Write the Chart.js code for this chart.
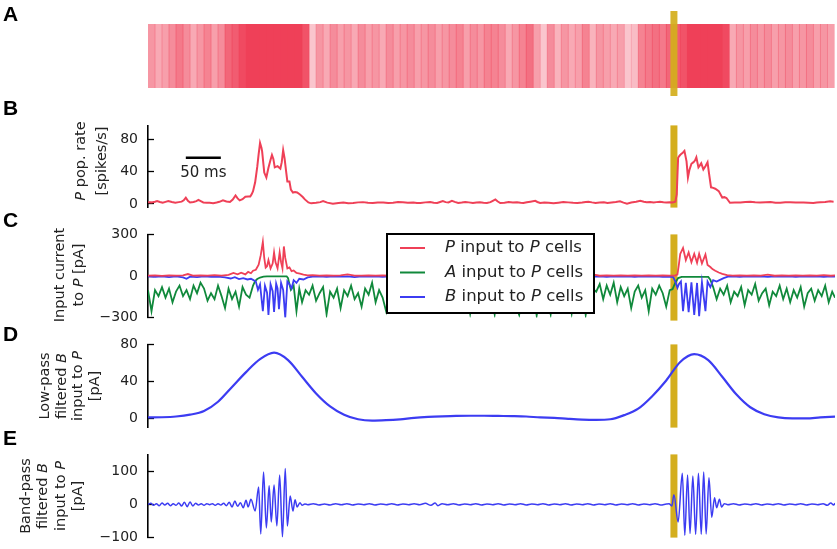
<!DOCTYPE html>
<html><head><meta charset="utf-8">
<script src="https://cdn.jsdelivr.net/npm/chart.js@4.4.1/dist/chart.umd.min.js"></script>
<style>
html,body{margin:0;padding:0;background:#fff;overflow:hidden;}
#wrap{position:relative;width:837px;height:549px;overflow:hidden;background:#fff;}
canvas{position:absolute;left:0;}
</style></head><body><div id="wrap">
<canvas id="cA" width="837" height="110" style="top:0px"></canvas>
<canvas id="cB" width="837" height="131" style="top:101px"></canvas>
<canvas id="cC" width="837" height="132" style="top:210px"></canvas>
<canvas id="cD" width="837" height="132" style="top:320px"></canvas>
<canvas id="cE" width="837" height="132" style="top:430px"></canvas>
</div>
<script>
// ---------------- DATA (time in ms) ----------------
const T_MAX = 981;
const stimWindow = [746, 756];
const scaleBarMs = 50;

const rasterBinMs = 10;
const rasterDensity = [0.55,0.45,0.5,0.6,0.7,0.6,0.45,0.55,0.65,0.5,0.6,0.8,0.85,0.95,1,1,1,1,1,1,1,1,0.9,0.3,
0.55,0.45,0.6,0.5,0.55,0.45,0.6,0.5,0.55,0.45,0.6,0.5,0.55,0.6,0.5,0.55,0.6,0.5,0.55,0.6,0.65,0.5,0.6,0.55,0.65,
0.65,0.6,0.45,0.55,0.65,0.75,0.5,0.3,0.6,0.4,0.55,0.45,0.5,0.65,0.4,0.55,0.5,0.45,0.5,0.3,0.35,0.65,0.7,0.75,0.7,
0.8,0.85,0.9,1,1,1,1,1,0.95,0.45,0.55,0.5,0.6,0.55,0.6,0.5,0.55,0.6,0.5,0.55,0.6,0.5,0.55,0.5];

const rateSeries = [[0,2.3],[5,2.0],[10,2.8],[13,3.7],[17,2.5],[21,1.5],[25,2.6],[29,3.7],[34,2.4],[39,1.5],[44,2.3],[48,2.9],[51,4.5],[54,7.9],[57,4.0],[60,1.9],[65,2.4],[69,3.6],[72,5.0],[76,3.2],[79,1.9],[84,1.6],[88,1.4],[93,1.0],[98,1.8],[102,2.7],[107,4.5],[112,3.0],[117,2.5],[121,5.5],[125,10.6],[128,7.0],[131,4.5],[135,6.0],[139,9.0],[143,9.2],[146,9.4],[148,12],[150,16],[153,27],[156,46],[158,62],[160,76],[162,70],[163,65],[165,48],[166,39],[169,33],[172,45],[175,55],[177,61],[179,56],[181,45.5],[185,47],[189,44],[191,52],[193,67],[195,57],[197,42],[199,28],[202,28],[204,18],[207,14.3],[210,15],[213,14.3],[217,11.7],[221,8.7],[224,5.7],[229,1.9],[233,0.8],[240,1.4],[246,2.3],[250,3.6],[256,1.7],[264,0.4],[272,1.3],[279,1.9],[286,1.0],[293,1.2],[300,2.0],[307,2.3],[314,1.5],[321,1.2],[328,1.7],[336,1.9],[343,1.2],[350,1.6],[357,2.4],[364,2.2],[371,1.5],[379,1.9],[384,1.3],[389,1.2],[396,2.0],[403,2.5],[408,1.6],[413,1.2],[417,2.4],[421,3.6],[425,2.3],[429,1.9],[434,3.9],[438,2.6],[443,1.2],[448,1.8],[453,2.5],[458,2.0],[464,1.2],[469,1.7],[474,2.2],[479,1.5],[484,1.2],[489,2.3],[493,4.2],[496,5.7],[499,3.4],[503,1.2],[509,1.6],[515,2.4],[521,1.8],[527,2.2],[532,1.6],[536,1.2],[541,2.2],[546,2.9],[553,3.9],[556,2.5],[560,1.2],[566,1.9],[572,1.4],[579,0.8],[586,1.6],[593,2.5],[600,2.0],[607,1.4],[613,1.2],[620,1.9],[625,2.6],[629,2.9],[634,2.0],[639,1.2],[645,1.7],[651,2.1],[656,1.2],[662,1.9],[668,2.5],[674,3.3],[679,1.7],[684,0.4],[690,1.8],[697,2.7],[703,3.9],[708,2.9],[712,2.3],[717,2.5],[722,1.8],[726,2.3],[731,2.9],[736,2.2],[740,1.9],[745,2.1],[749,1.9],[753,2.9],[755,12],[756,35],[757,57.5],[759,60],[761,62],[764,64],[766,66],[769,53],[771,33],[773,42],[776,50],[779,52],[781,54],[783,58],[786,45.5],[788,48],[790,50.7],[793,43],[796,47],[799,52],[801,38.7],[804,20.7],[807,20],[810,19],[815,16],[820,8],[823,8.5],[826,7.4],[831,1.5],[838,1.9],[846,1.9],[853,2.5],[860,2.9],[867,2.2],[874,1.9],[882,2.2],[889,2.5],[896,1.6],[903,1.6],[910,2.0],[917,2.2],[925,1.7],[936,1.9],[943,1.5],[950,1.2],[955,1.8],[960,2.2],[967,2.6],[974,3.3],[979,2.9]];

const pInput = [[0,2],[10,4],[20,1],[30,5],[40,2],[50,4],[57,14],[64,3],[75,5],[85,2],[95,6],[105,3],[115,8],[122,22],[128,12],[133,24],[139,12],[143,30],[147,20],[150,38],[154,45],[158,82],[161,150],[164,246],[166,130],[168,60],[170,70],[172,115],[175,55],[178,90],[180,170],[182,100],[185,55],[188,170],[190,100],[192,55],[194,213],[196,130],[199,55],[202,62],[205,35],[208,40],[212,22],[217,17],[222,10],[228,4],[235,6],[245,2],[255,5],[265,2],[275,4],[285,12],[295,3],[305,2],[315,5],[325,2],[335,4],[345,3],[355,6],[365,2],[375,4],[385,3],[395,5],[405,2],[415,6],[425,3],[435,4],[445,2],[455,5],[465,10],[475,4],[485,2],[495,6],[505,3],[515,4],[525,2],[535,5],[545,3],[555,6],[565,2],[575,4],[585,3],[595,5],[605,2],[615,4],[625,3],[635,12],[645,2],[655,4],[665,3],[675,5],[685,2],[695,4],[705,3],[715,5],[725,2],[735,4],[745,3],[750,2],[753,3],[756,12],[758,80],[760,159],[764,202],[768,115],[772,170],[776,100],[780,160],[784,95],[787,160],[791,90],[796,155],[799,80],[803,65],[806,50],[810,38],[815,25],[820,15],[827,7],[835,3],[845,5],[855,2],[865,4],[875,3],[885,10],[895,2],[905,4],[915,3],[925,5],[935,2],[945,4],[955,3],[965,6],[975,2],[981,4]];

const aInput = [[0,-102],[5,-254],[10,-102],[15,-145],[20,-80],[25,-156],[30,-91],[35,-189],[40,-113],[45,-69],[50,-145],[55,-102],[60,-167],[65,-69],[70,-124],[75,-48],[80,-91],[85,-178],[90,-124],[95,-167],[100,-69],[105,-145],[110,-232],[115,-91],[120,-167],[125,-113],[130,-221],[135,-80],[140,-135],[145,-156],[150,-69],[153,-37],[156,-22],[160,-11],[165,-5],[170,-3],[180,-2],[190,-2],[198,-2],[200,-15],[202,-60],[204,-100],[208,-69],[212,-254],[216,-91],[220,-189],[225,-102],[230,-135],[235,-69],[240,-178],[245,-124],[250,-80],[255,-276],[260,-113],[265,-156],[270,-91],[275,-232],[280,-102],[285,-145],[290,-69],[295,-167],[300,-124],[305,-221],[310,-91],[315,-135],[320,-48],[325,-189],[330,-102],[335,-156],[340,-254],[345,-113],[350,-69],[355,-145],[360,-102],[365,-178],[370,-80],[375,-124],[380,-232],[385,-113],[390,-156],[395,-69],[400,-189],[405,-102],[410,-145],[415,-91],[420,-167],[425,-124],[430,-211],[435,-80],[440,-135],[445,-102],[450,-178],[455,-113],[460,-269],[465,-91],[470,-156],[475,-124],[480,-189],[485,-80],[490,-145],[495,-276],[500,-102],[505,-167],[510,-69],[515,-135],[520,-113],[525,-211],[530,-280],[535,-124],[540,-91],[545,-167],[550,-102],[555,-285],[560,-135],[565,-80],[570,-156],[575,-276],[580,-113],[585,-189],[590,-91],[595,-145],[600,-124],[605,-269],[610,-102],[615,-178],[620,-80],[625,-280],[630,-135],[635,-91],[640,-113],[645,-58],[650,-167],[655,-69],[660,-135],[665,-48],[670,-189],[675,-80],[680,-145],[685,-91],[690,-232],[695,-113],[700,-69],[705,-156],[710,-102],[715,-254],[720,-91],[725,-135],[730,-69],[735,-124],[740,-221],[745,-102],[749,-95],[753,-48],[757,-15],[762,-6],[770,-6],[780,-6],[790,-6],[800,-6],[803,-26],[807,-80],[812,-167],[817,-91],[822,-135],[827,-69],[832,-189],[837,-113],[842,-145],[847,-80],[852,-211],[857,-102],[862,-135],[867,-58],[872,-178],[877,-124],[882,-91],[887,-211],[892,-113],[897,-145],[902,-69],[907,-167],[912,-91],[917,-189],[922,-102],[927,-156],[932,-80],[937,-221],[942,-124],[947,-91],[952,-178],[957,-102],[962,-145],[967,-69],[972,-189],[977,-113],[981,-156]];

const bInput = [[0,-3],[10,-6],[20,-2],[30,-8],[40,-3],[50,-10],[55,-20],[60,-5],[70,-8],[80,-3],[90,-6],[100,-4],[110,-10],[118,-18],[124,-8],[130,-22],[136,-15],[142,-25],[147,-20],[150,-28],[154,-40],[157,-100],[160,-60],[164,-254],[167,-70],[170,-120],[172,-280],[175,-60],[178,-110],[180,-260],[183,-55],[185,-90],[187,-240],[190,-50],[193,-100],[196,-300],[199,-40],[202,-60],[205,-90],[208,-30],[212,-50],[216,-20],[222,-25],[228,-10],[235,-5],[245,-3],[255,-7],[265,-2],[275,-5],[285,-3],[295,-8],[305,-2],[315,-4],[325,-3],[335,-6],[345,-2],[355,-4],[365,-3],[375,-6],[385,-2],[395,-4],[405,-3],[415,-7],[425,-2],[435,-5],[445,-3],[455,-6],[465,-2],[475,-4],[485,-3],[495,-7],[505,-2],[515,-5],[525,-3],[535,-6],[545,-2],[555,-4],[565,-3],[575,-8],[585,-2],[595,-5],[605,-3],[615,-6],[625,-2],[635,-4],[645,-3],[655,-6],[665,-2],[675,-5],[685,-3],[695,-7],[705,-2],[715,-4],[725,-3],[735,-6],[745,-5],[750,-8],[753,-40],[756,-85],[758,-60],[761,-40],[764,-254],[768,-50],[772,-260],[776,-45],[780,-280],[784,-50],[787,-290],[791,-45],[796,-254],[799,-40],[803,-80],[807,-30],[812,-40],[816,-30],[822,-15],[828,-5],[835,-3],[845,-6],[855,-2],[865,-4],[875,-3],[885,-7],[895,-2],[905,-5],[915,-3],[925,-6],[935,-2],[945,-4],[955,-3],[965,-6],[975,-2],[981,-4]];

const lowPassB = [[0,1],[20,1.2],[40,2],[60,4],[80,8],[100,18],[120,34],[140,50],[160,64],[180,71],[200,63],[220,45],[240,27],[260,13],[280,4],[300,-1],[320,-2.5],[340,-2],[360,-1],[380,0.5],[400,1.5],[420,2.2],[440,2.7],[460,2.8],[480,2.8],[500,2.6],[520,2.4],[540,2],[560,1],[580,0.5],[600,-0.5],[620,-1.3],[640,-1.6],[660,-1],[680,3.5],[700,10.5],[720,24],[740,41],[760,61],[780,69.5],[800,63],[820,45],[840,26],[860,12],[880,4.5],[900,1],[920,0],[940,0],[960,1],[981,1.8]];

const bandPassB = [[0,0],[4,3],[8,-3],[12,2],[16,-4],[20,4],[24,-2],[28,3],[32,-4],[36,2],[40,-3],[44,4],[48,-5],[52,6],[56,-7],[60,7],[64,-5],[68,3],[72,-2],[76,2],[80,-3],[84,2],[88,-1],[92,2],[96,-3],[100,2],[104,-2],[108,3],[112,-4],[116,6],[120,-8],[124,10],[128,-6],[132,5],[136,-10],[140,12],[143,-8],[147,15],[153,-20],[158,52],[161,-89],[165,97],[169,-71],[173,56],[176,-53],[180,58],[184,-65],[188,88],[192,-98],[196,108],[199,-65],[203,25],[207,-20],[210,14],[213,-8],[217,5],[220,-3],[224,1],[228,-1],[236,2],[244,-2],[252,1],[260,-2],[268,2],[276,-1],[284,2],[292,-2],[300,1],[308,-1],[316,2],[324,-2],[332,1],[340,-1],[348,2],[356,-2],[364,1],[372,-1],[380,2],[388,-1],[396,3],[404,-3],[410,4],[414,-4],[420,2],[428,-1],[436,2],[444,-2],[452,1],[460,-1],[468,2],[476,-2],[484,1],[492,-1],[500,2],[508,-2],[516,1],[524,-1],[532,2],[540,-2],[548,1],[556,-1],[564,2],[572,-2],[580,1],[588,-1],[596,2],[604,-2],[612,1],[620,-1],[628,2],[636,-2],[644,1],[652,-1],[660,2],[668,-2],[676,1],[684,-1],[692,2],[700,-2],[708,1],[716,-1],[724,2],[732,-2],[740,1],[744,2],[748,-5],[751,29],[757,-53],[763,93],[766.5,-93],[770.5,88],[774,-88],[778,85],[782,-90],[786,93],[790,-90],[793.5,97],[797,-89],[801,80],[805,-39],[809,20],[812,-10],[816,15],[819,-8],[823,2],[828,-1],[836,2],[844,-2],[852,1],[860,-1],[868,2],[876,-2],[884,1],[892,-1],[900,2],[908,-2],[916,1],[924,-1],[932,2],[940,-2],[948,1],[956,-1],[964,2],[970,-3],[975,4],[979,-2],[981,3]];

const rateTicks = [0, 40, 80];
const currentTicks = [-300, 0, 300];
const lowTicks = [0, 40, 80];
const bandTicks = [-100, 0, 100];
const seriesNames = ['P input to P cells', 'A input to P cells', 'B input to P cells'];

// ---------------- STYLE ----------------
const FONT = "'DejaVu Sans', sans-serif";
const RED = '#ef4057', GREEN = '#10893b', BLUE = '#3c3cf2', GOLD = '#d4ae1e';

const panelCfg = {
  cA: {top: 0, letter: 'A', letterY: 21, stim: [13, 8], stimOnTop: true},
  cB: {top: 101, letter: 'B', letterY: 115, stim: [0, 0], title: ['P pop. rate', '[spikes/s]'], titleX: 92, titleY: 161, titleGap: 21, scaleBar: {start: 54, level: 57.5}},
  cC: {top: 210, letter: 'C', letterY: 227, stim: [0, 3], title: ['Input current', 'to P [pA]'], titleX: 70, titleY: 275, titleGap: 19, legend: true},
  cD: {top: 320, letter: 'D', letterY: 341, stim: [0, 0], title: ['Low-pass', 'filtered B', 'input to P', '[pA]'], titleX: 70, titleY: 386, titleGap: 16.5},
  cE: {top: 430, letter: 'E', letterY: 445, stim: [0, 0], title: ['Band-pass', 'filtered B', 'input to P', '[pA]'], titleX: 52, titleY: 496, titleGap: 17.5}
};

function fmtTick(v) { return v < 0 ? '\u2212' + Math.abs(v) : String(v); }
const toXY = arr => arr.map(p => ({x: p[0], y: p[1]}));

function drawRich(ctx, text, x, y, size, color, align) {
  const words = text.split(' ');
  const parts = [];
  words.forEach((w, i) => { parts.push({t: w, it: /^[PAB]$/.test(w)}); if (i < words.length - 1) parts.push({t: ' ', it: false}); });
  const fontOf = it => (it ? 'italic ' : '') + size + 'px ' + FONT;
  let total = 0;
  parts.forEach(p => { ctx.font = fontOf(p.it); p.w = ctx.measureText(p.t).width; total += p.w; });
  let cx = align === 'center' ? x - total / 2 : x;
  ctx.fillStyle = color; ctx.textAlign = 'left'; ctx.textBaseline = 'middle';
  parts.forEach(p => { ctx.font = fontOf(p.it); ctx.fillText(p.t, cx, y); cx += p.w; });
}

function drawStim(chart, o) {
  const {ctx, chartArea: ca, scales: {x}} = chart;
  const x0 = x.getPixelForValue(stimWindow[0]), x1 = x.getPixelForValue(stimWindow[1]);
  ctx.save();
  ctx.fillStyle = GOLD;
  ctx.globalAlpha = o.stimOnTop ? 0.93 : 1;
  ctx.fillRect(x0, ca.top - o.stim[0], x1 - x0, ca.bottom - ca.top + o.stim[0] + o.stim[1]);
  ctx.restore();
}

const deco = {
  id: 'deco',
  beforeDatasetsDraw(chart) {
    const o = panelCfg[chart.canvas.id];
    if (o.stim && !o.stimOnTop) drawStim(chart, o);
  },
  afterDatasetsDraw(chart) {
    const o = panelCfg[chart.canvas.id];
    const ctx = chart.ctx;
    if (o.stim && o.stimOnTop) drawStim(chart, o);
    ctx.save();
    ctx.font = "bold 21px 'Liberation Sans', Arial, sans-serif";
    ctx.fillStyle = '#000'; ctx.textAlign = 'left'; ctx.textBaseline = 'alphabetic';
    ctx.fillText(o.letter, 3, o.letterY - o.top);
    if (o.title) {
      const n = o.title.length;
      o.title.forEach((line, i) => {
        const lx = o.titleX + (i - (n - 1) / 2) * o.titleGap;
        ctx.save();
        ctx.translate(lx, o.titleY - o.top);
        ctx.rotate(-Math.PI / 2);
        drawRich(ctx, line, 0, 0, 14.5, '#222', 'center');
        ctx.restore();
      });
    }
    if (o.scaleBar) {
      const xs = chart.scales.x, ys = chart.scales.y;
      const xa = xs.getPixelForValue(o.scaleBar.start), xb = xs.getPixelForValue(o.scaleBar.start + scaleBarMs);
      const yy = ys.getPixelForValue(o.scaleBar.level);
      ctx.strokeStyle = '#000'; ctx.lineWidth = 2.5;
      ctx.beginPath(); ctx.moveTo(xa, yy); ctx.lineTo(xb, yy); ctx.stroke();
      ctx.font = '15px ' + FONT; ctx.fillStyle = '#222'; ctx.textAlign = 'center'; ctx.textBaseline = 'middle';
      ctx.fillText(scaleBarMs + ' ms', (xa + xb) / 2, yy + 15.5);
    }
    if (o.legend) {
      const L = {x: 387, y: 234 - o.top, w: 207, h: 79};
      ctx.fillStyle = '#fff'; ctx.fillRect(L.x, L.y, L.w, L.h);
      ctx.strokeStyle = '#000'; ctx.lineWidth = 2; ctx.strokeRect(L.x, L.y, L.w, L.h);
      chart.data.datasets.forEach((ds, i) => {
        const yy = 248 - o.top + i * 24.5;
        ctx.strokeStyle = ds.borderColor; ctx.lineWidth = 2;
        ctx.beginPath(); ctx.moveTo(400, yy); ctx.lineTo(425, yy); ctx.stroke();
        drawRich(ctx, ds.label, 445, yy, 16.5, '#222', 'left');
      });
    }
    ctx.restore();
  }
};

function yAxis(min, max, ticks) {
  return {
    type: 'linear', min, max, position: 'left',
    afterFit(a) { a.width = 148; },
    afterBuildTicks(a) { a.ticks = ticks.map(v => ({value: v})); },
    border: {display: true, color: '#000', width: 1.6},
    grid: {drawOnChartArea: false, drawTicks: true, tickLength: -6, color: '#000', tickWidth: 1.3},
    ticks: {padding: 16, color: '#222', font: {family: FONT, size: 14}, callback: v => fmtTick(v)}
  };
}
const xAxis = {type: 'linear', min: 0, max: T_MAX, display: false, offset: false};

function baseOpts(padding, yScale) {
  return {
    responsive: false, animation: false, devicePixelRatio: 1, events: [],
    layout: {padding},
    plugins: {legend: {display: false}, tooltip: {enabled: false}},
    scales: {x: xAxis, y: yScale}
  };
}

// A: raster density
new Chart(document.getElementById('cA'), {
  type: 'bar',
  data: {datasets: [{
    label: 'P spikes',
    data: rasterDensity.map((d, i) => ({x: i * rasterBinMs + rasterBinMs / 2, y: [0, 1]})),
    backgroundColor: rasterDensity.map(d => 'rgba(239,64,88,' + d + ')'),
    borderWidth: 0, barPercentage: 1, categoryPercentage: 1, grouped: false
  }]},
  options: baseOpts({left: 148, right: 2, top: 24, bottom: 22}, {type: 'linear', min: 0, max: 1, display: false}),
  plugins: [deco]
});

// B: population rate
new Chart(document.getElementById('cB'), {
  type: 'line',
  data: {datasets: [{label: 'P pop. rate', data: toXY(rateSeries), borderColor: RED, borderWidth: 2, pointRadius: 0, fill: false}]},
  options: baseOpts({left: 0, right: 2, top: 20, bottom: 20.3}, yAxis(-4.5, 97.7, rateTicks)),
  plugins: [deco]
});

// C: input currents
new Chart(document.getElementById('cC'), {
  type: 'line',
  data: {datasets: [
    {label: seriesNames[0], data: toXY(pInput), borderColor: RED, borderWidth: 1.8, pointRadius: 0, fill: false, order: 0},
    {label: seriesNames[1], data: toXY(aInput), borderColor: GREEN, borderWidth: 1.8, pointRadius: 0, fill: false, order: 2},
    {label: seriesNames[2], data: toXY(bInput), borderColor: BLUE, borderWidth: 1.8, pointRadius: 0, fill: false, order: 1}
  ]},
  options: baseOpts({left: 0, right: 2, top: 20, bottom: 20.3}, yAxis(-300, 300, currentTicks)),
  plugins: [deco]
});

// D: low-pass filtered B input
new Chart(document.getElementById('cD'), {
  type: 'line',
  data: {datasets: [{label: 'Low-pass filtered B input to P', data: toXY(lowPassB), borderColor: BLUE, borderWidth: 2.2, pointRadius: 0, fill: false, cubicInterpolationMode: 'monotone'}]},
  options: baseOpts({left: 0, right: 2, top: 20.7, bottom: 20.3}, yAxis(-10, 80, lowTicks)),
  plugins: [deco]
});

// E: band-pass filtered B input
new Chart(document.getElementById('cE'), {
  type: 'line',
  data: {datasets: [{label: 'Band-pass filtered B input to P', data: toXY(bandPassB), borderColor: BLUE, borderWidth: 1.5, pointRadius: 0, fill: false, cubicInterpolationMode: 'monotone'}]},
  options: baseOpts({left: 0, right: 2, top: 20.7, bottom: 20.3}, yAxis(-100, 150, bandTicks)),
  plugins: [deco]
});
</script></body></html>
